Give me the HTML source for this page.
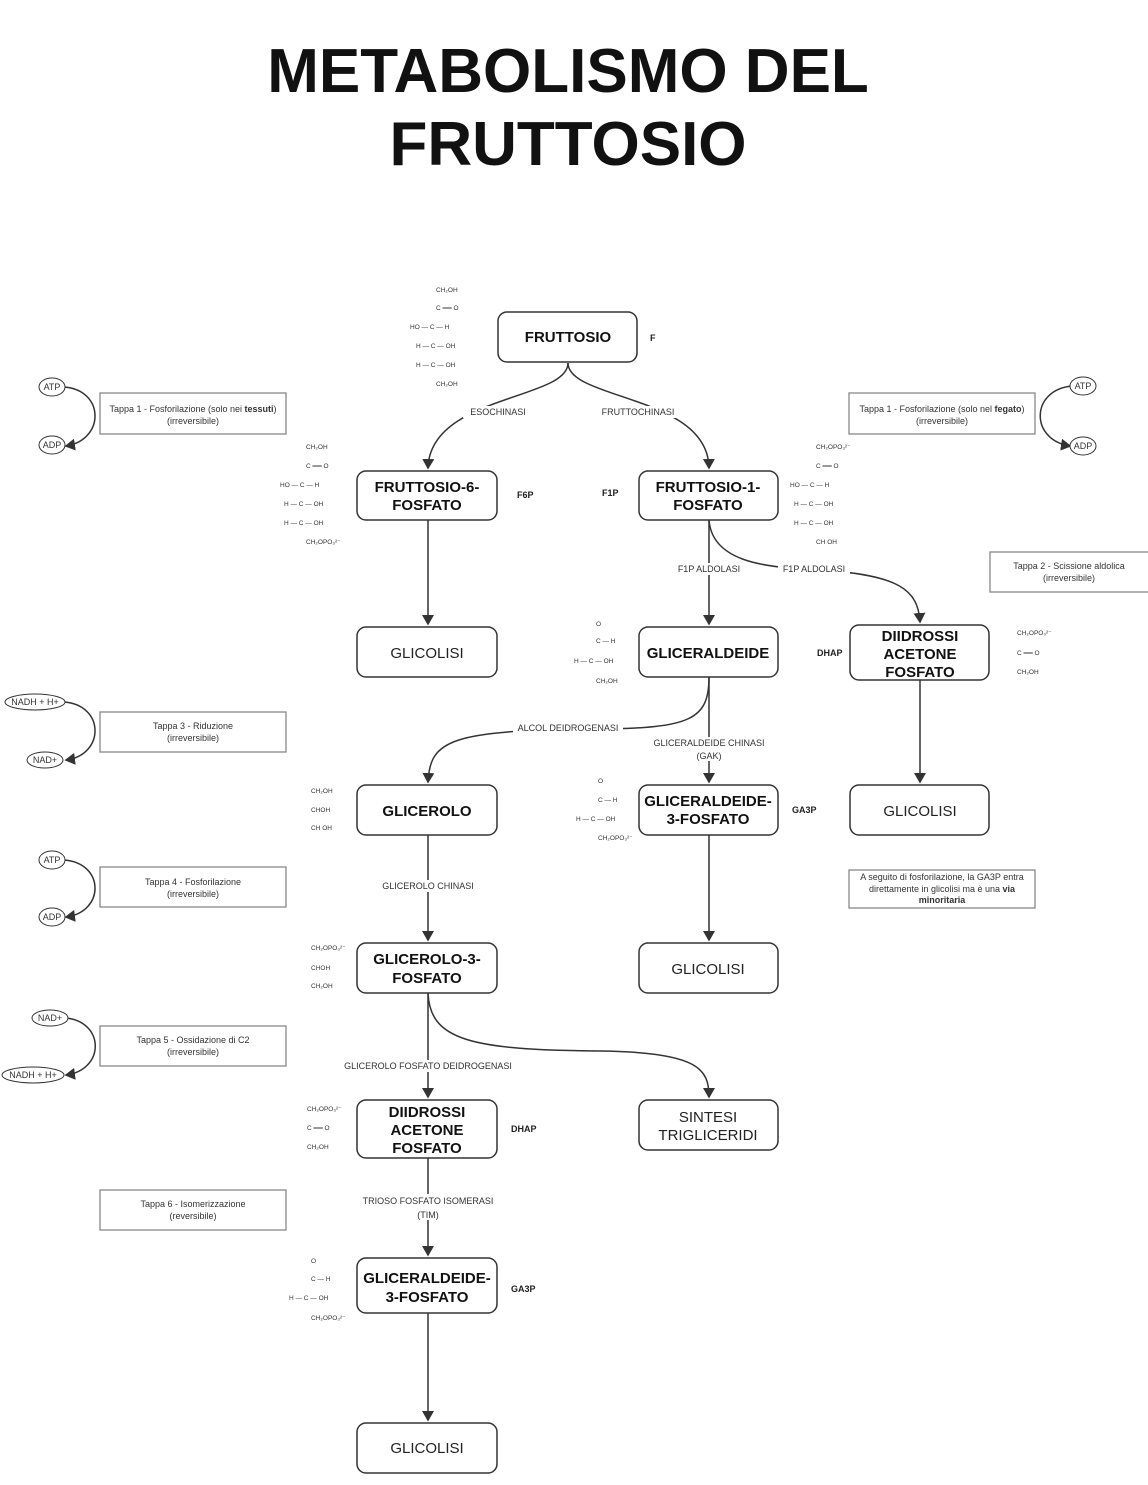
<!DOCTYPE html>
<html><head><meta charset="utf-8"><style>
html,body{margin:0;padding:0;background:#fff}
svg{display:block}
text{font-family:"Liberation Sans",sans-serif}
.t{font-size:62px;font-weight:bold;fill:#111;text-anchor:middle}
.bx{fill:#fff;stroke:#333;stroke-width:1.5}
.bl{font-size:15px;font-weight:bold;text-anchor:middle;fill:#111}
.nl{font-size:15px;text-anchor:middle;fill:#222}
.sb{fill:#fff;stroke:#888;stroke-width:1.3}
.st{font-size:9px;text-anchor:middle;fill:#333}
.ln{stroke:#333;stroke-width:1.5;fill:none}
.lb{font-size:9px;fill:#333;text-anchor:middle}
.ab{font-size:9px;font-weight:bold;fill:#222}
.f{font-size:6.5px;fill:#333}
.el{fill:#fff;stroke:#333;stroke-width:1}
.et{font-size:9px;text-anchor:middle;fill:#333}
</style></head><body>
<svg width="1148" height="1485" viewBox="0 0 1148 1485" xmlns="http://www.w3.org/2000/svg">
<defs><marker id="a" markerWidth="8" markerHeight="8" refX="6" refY="4" orient="auto"><path d="M0,0 L7,4 L0,8 z" fill="#333"/></marker></defs>
<text x="568" y="92" class="t">METABOLISMO DEL</text>
<text x="568" y="165" class="t">FRUTTOSIO</text>

<!-- connectors -->
<path class="ln" d="M568 363 C568 400 430 395 428 468" marker-end="url(#a)"/>
<path class="ln" d="M568 363 C568 400 708 395 709 468" marker-end="url(#a)"/>
<rect x="463" y="406" width="70" height="12" fill="#fff"/><text x="498" y="415" class="lb">ESOCHINASI</text>
<rect x="596" y="406" width="84" height="12" fill="#fff"/><text x="638" y="415" class="lb">FRUTTOCHINASI</text>
<path class="ln" d="M428 520 V624" marker-end="url(#a)"/>
<path class="ln" d="M709 520 V624" marker-end="url(#a)"/>
<path class="ln" d="M709 520 C712 560 760 568 820 570 C900 575 918 590 920 622" marker-end="url(#a)"/>
<rect x="672" y="563" width="74" height="12" fill="#fff"/><text x="709" y="572" class="lb">F1P ALDOLASI</text>
<rect x="778" y="563" width="72" height="12" fill="#fff"/><text x="814" y="572" class="lb">F1P ALDOLASI</text>
<path class="ln" d="M709 677 C709 720 690 728 600 729 C450 730 430 740 428 782" marker-end="url(#a)"/>
<rect x="513" y="722" width="110" height="12" fill="#fff"/><text x="568" y="731" class="lb">ALCOL DEIDROGENASI</text>
<path class="ln" d="M709 677 V782" marker-end="url(#a)"/>
<rect x="648" y="737" width="122" height="24" fill="#fff"/><text x="709" y="746" class="lb">GLICERALDEIDE CHINASI</text><text x="709" y="759" class="lb">(GAK)</text>
<path class="ln" d="M920 680 V782" marker-end="url(#a)"/>
<path class="ln" d="M428 835 V940" marker-end="url(#a)"/>
<rect x="376" y="880" width="104" height="12" fill="#fff"/><text x="428" y="889" class="lb">GLICEROLO CHINASI</text>
<path class="ln" d="M709 835 V940" marker-end="url(#a)"/>
<path class="ln" d="M428 993 V1097" marker-end="url(#a)"/>
<path class="ln" d="M428 993 C430 1040 470 1050 600 1051 C700 1052 709 1070 709 1097" marker-end="url(#a)"/>
<rect x="338" y="1060" width="180" height="12" fill="#fff"/><text x="428" y="1069" class="lb">GLICEROLO FOSFATO DEIDROGENASI</text>
<path class="ln" d="M428 1158 V1255" marker-end="url(#a)"/>
<rect x="358" y="1194" width="140" height="26" fill="#fff"/><text x="428" y="1204" class="lb">TRIOSO FOSFATO ISOMERASI</text><text x="428" y="1218" class="lb">(TIM)</text>
<path class="ln" d="M428 1313 V1420" marker-end="url(#a)"/>

<!-- boxes -->
<rect class="bx" x="498" y="312" width="139" height="50" rx="9"/><text x="568" y="342" class="bl">FRUTTOSIO</text>
<rect class="bx" x="357" y="471" width="140" height="49" rx="9"/><text x="427" y="492" class="bl">FRUTTOSIO-6-</text><text x="427" y="510" class="bl">FOSFATO</text>
<rect class="bx" x="639" y="471" width="139" height="49" rx="9"/><text x="708" y="492" class="bl">FRUTTOSIO-1-</text><text x="708" y="510" class="bl">FOSFATO</text>
<rect class="bx" x="357" y="627" width="140" height="50" rx="9"/><text x="427" y="658" class="nl">GLICOLISI</text>
<rect class="bx" x="639" y="627" width="139" height="50" rx="9"/><text x="708" y="658" class="bl">GLICERALDEIDE</text>
<rect class="bx" x="850" y="625" width="139" height="55" rx="9"/><text x="920" y="641" class="bl">DIIDROSSI</text><text x="920" y="659" class="bl">ACETONE</text><text x="920" y="677" class="bl">FOSFATO</text>
<rect class="bx" x="357" y="785" width="140" height="50" rx="9"/><text x="427" y="816" class="bl">GLICEROLO</text>
<rect class="bx" x="639" y="785" width="139" height="50" rx="9"/><text x="708" y="806" class="bl">GLICERALDEIDE-</text><text x="708" y="824" class="bl">3-FOSFATO</text>
<rect class="bx" x="850" y="785" width="139" height="50" rx="9"/><text x="920" y="816" class="nl">GLICOLISI</text>
<rect class="bx" x="357" y="943" width="140" height="50" rx="9"/><text x="427" y="964" class="bl">GLICEROLO-3-</text><text x="427" y="983" class="bl">FOSFATO</text>
<rect class="bx" x="639" y="943" width="139" height="50" rx="9"/><text x="708" y="974" class="nl">GLICOLISI</text>
<rect class="bx" x="357" y="1100" width="140" height="58" rx="9"/><text x="427" y="1117" class="bl">DIIDROSSI</text><text x="427" y="1135" class="bl">ACETONE</text><text x="427" y="1153" class="bl">FOSFATO</text>
<rect class="bx" x="639" y="1100" width="139" height="50" rx="9"/><text x="708" y="1122" class="nl">SINTESI</text><text x="708" y="1140" class="nl">TRIGLICERIDI</text>
<rect class="bx" x="357" y="1258" width="140" height="55" rx="9"/><text x="427" y="1283" class="bl">GLICERALDEIDE-</text><text x="427" y="1302" class="bl">3-FOSFATO</text>
<rect class="bx" x="357" y="1423" width="140" height="50" rx="9"/><text x="427" y="1453" class="nl">GLICOLISI</text>

<!-- abbreviations -->
<text x="650" y="341" class="ab">F</text>
<text x="517" y="498" class="ab">F6P</text>
<text x="602" y="496" class="ab">F1P</text>
<text x="817" y="656" class="ab">DHAP</text>
<text x="792" y="813" class="ab">GA3P</text>
<text x="511" y="1132" class="ab">DHAP</text>
<text x="511" y="1292" class="ab">GA3P</text>

<!-- side boxes -->
<rect class="sb" x="100" y="393" width="186" height="41"/><text x="193" y="412" class="st">Tappa 1 - Fosforilazione (solo nei <tspan font-weight="bold">tessuti</tspan>)</text><text x="193" y="424" class="st">(irreversibile)</text>
<rect class="sb" x="849" y="393" width="186" height="41"/><text x="942" y="412" class="st">Tappa 1 - Fosforilazione (solo nel <tspan font-weight="bold">fegato</tspan>)</text><text x="942" y="424" class="st">(irreversibile)</text>
<rect class="sb" x="990" y="552" width="160" height="40"/><text x="1069" y="569" class="st">Tappa 2 - Scissione aldolica</text><text x="1069" y="581" class="st">(irreversibile)</text>
<rect class="sb" x="100" y="712" width="186" height="40"/><text x="193" y="729" class="st">Tappa 3 - Riduzione</text><text x="193" y="741" class="st">(irreversibile)</text>
<rect class="sb" x="100" y="867" width="186" height="40"/><text x="193" y="885" class="st">Tappa 4 - Fosforilazione</text><text x="193" y="897" class="st">(irreversibile)</text>
<rect class="sb" x="100" y="1026" width="186" height="40"/><text x="193" y="1043" class="st">Tappa 5 - Ossidazione di C2</text><text x="193" y="1055" class="st">(irreversibile)</text>
<rect class="sb" x="100" y="1190" width="186" height="40"/><text x="193" y="1207" class="st">Tappa 6 - Isomerizzazione</text><text x="193" y="1219" class="st">(reversibile)</text>
<rect class="sb" x="849" y="870" width="186" height="38"/><text x="942" y="880" class="st" font-size="8.5">A seguito di fosforilazione, la GA3P entra</text><text x="942" y="892" class="st" font-size="8.5">direttamente in glicolisi ma è una <tspan font-weight="bold">via</tspan></text><text x="942" y="903" class="st" font-size="8.5" font-weight="bold">minoritaria</text>

<!-- cofactor loops -->
<g>
<path class="ln" d="M64 387 C105 390 105 440 66 446" marker-end="url(#a)" stroke-width="1.2"/>
<ellipse class="el" cx="52" cy="387" rx="13" ry="9"/><text x="52" y="390" class="et">ATP</text>
<ellipse class="el" cx="52" cy="445" rx="13" ry="9"/><text x="52" y="448" class="et">ADP</text>

<path class="ln" d="M1072 386 C1030 390 1030 440 1070 446" marker-end="url(#a)" stroke-width="1.2"/>
<ellipse class="el" cx="1083" cy="386" rx="13" ry="9"/><text x="1083" y="389" class="et">ATP</text>
<ellipse class="el" cx="1083" cy="446" rx="13" ry="9"/><text x="1083" y="449" class="et">ADP</text>

<path class="ln" d="M64 702 C105 705 105 755 66 760" marker-end="url(#a)" stroke-width="1.2"/>
<ellipse class="el" cx="35" cy="702" rx="30" ry="8"/><text x="35" y="705" class="et">NADH + H+</text>
<ellipse class="el" cx="45" cy="760" rx="18" ry="8"/><text x="45" y="763" class="et">NAD+</text>

<path class="ln" d="M64 860 C105 863 105 912 66 917" marker-end="url(#a)" stroke-width="1.2"/>
<ellipse class="el" cx="52" cy="860" rx="13" ry="9"/><text x="52" y="863" class="et">ATP</text>
<ellipse class="el" cx="52" cy="917" rx="13" ry="9"/><text x="52" y="920" class="et">ADP</text>

<path class="ln" d="M66 1018 C105 1022 105 1070 66 1075" marker-end="url(#a)" stroke-width="1.2"/>
<ellipse class="el" cx="50" cy="1018" rx="18" ry="8"/><text x="50" y="1021" class="et">NAD+</text>
<ellipse class="el" cx="33" cy="1075" rx="31" ry="8"/><text x="33" y="1078" class="et">NADH + H+</text>
</g>

<!-- structural formulas -->
<g class="f">
<text x="436" y="292">CH₂OH</text><text x="436" y="310">C ══ O</text><text x="410" y="329">HO — C — H</text><text x="416" y="348">H — C — OH</text><text x="416" y="367">H — C — OH</text><text x="436" y="386">CH₂OH</text>
<text x="306" y="449">CH₂OH</text><text x="306" y="468">C ══ O</text><text x="280" y="487">HO — C — H</text><text x="284" y="506">H — C — OH</text><text x="284" y="525">H — C — OH</text><text x="306" y="544">CH₂OPO₃²⁻</text>
<text x="816" y="449">CH₂OPO₃²⁻</text><text x="816" y="468">C ══ O</text><text x="790" y="487">HO — C — H</text><text x="794" y="506">H — C — OH</text><text x="794" y="525">H — C — OH</text><text x="816" y="544">CH OH</text>
<text x="596" y="626">O</text><text x="596" y="643">C — H</text><text x="574" y="663">H — C — OH</text><text x="596" y="683">CH₂OH</text>
<text x="1017" y="635">CH₂OPO₃²⁻</text><text x="1017" y="655">C ══ O</text><text x="1017" y="674">CH₂OH</text>
<text x="311" y="793">CH₂OH</text><text x="311" y="812">CHOH</text><text x="311" y="830">CH OH</text>
<text x="598" y="783">O</text><text x="598" y="802">C — H</text><text x="576" y="821">H — C — OH</text><text x="598" y="840">CH₂OPO₃²⁻</text>
<text x="311" y="950">CH₂OPO₃²⁻</text><text x="311" y="970">CHOH</text><text x="311" y="988">CH₂OH</text>
<text x="307" y="1111">CH₂OPO₃²⁻</text><text x="307" y="1130">C ══ O</text><text x="307" y="1149">CH₂OH</text>
<text x="311" y="1263">O</text><text x="311" y="1281">C — H</text><text x="289" y="1300">H — C — OH</text><text x="311" y="1320">CH₂OPO₃²⁻</text>
</g>
</svg>
</body></html>
